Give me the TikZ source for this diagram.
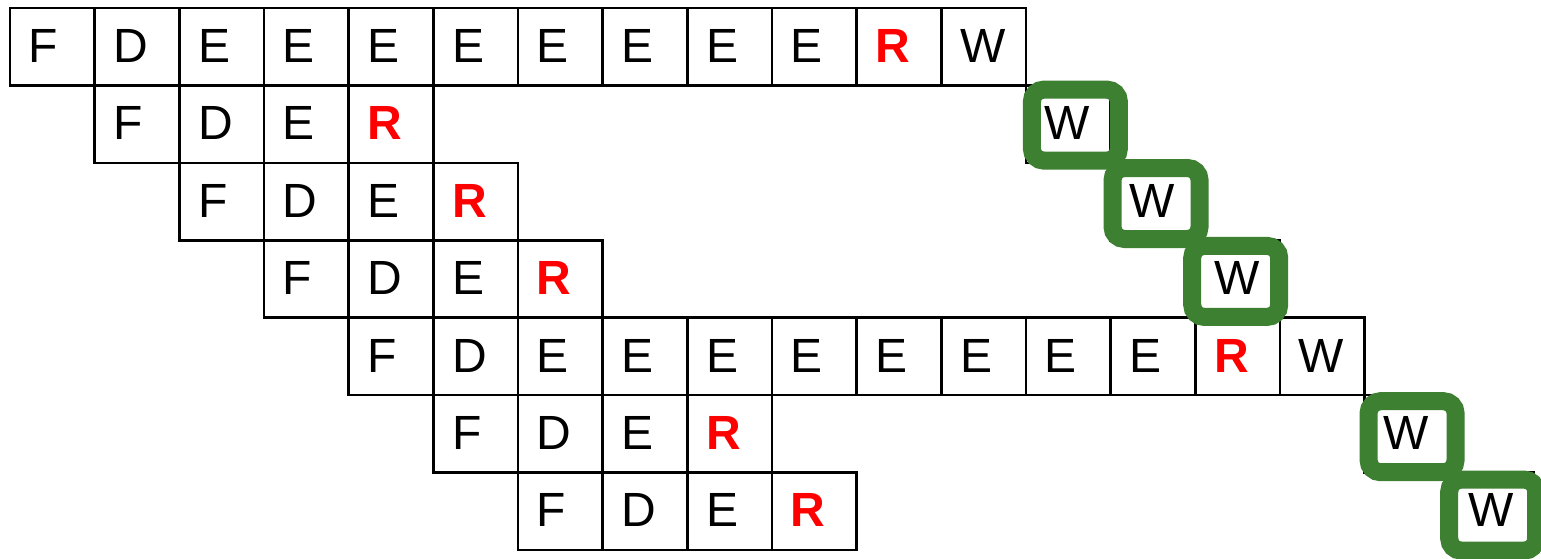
\documentclass[tikz,border=0pt]{standalone}
\usepackage{fontspec}
\setmainfont{Liberation Sans}
\usetikzlibrary{calc}
\definecolor{hlgreen}{RGB}{62,128,50}
\newcommand\cellat[4]{%
  \node[cell] (c#1-#2) at ({10+#2*84.67},{8+#1*77.4}) {};
  \node[#4] (t#1-#2) at ($(c#1-#2.north west)+(18.5,54.5)$) {#3};
}
\begin{document}
\begin{tikzpicture}[x=1pt,y=-1pt,
  cell/.style={draw=black, line width=2.6pt, minimum width=84.67pt, minimum height=77.4pt, inner sep=0pt, outer sep=0pt, anchor=north west},
  blk/.style={anchor=base west, inner sep=0pt, text=black, font=\fontsize{48}{48}\selectfont},
  rd/.style={anchor=base west, inner sep=0pt, text=red, font=\fontsize{48}{48}\selectfont\bfseries},
  hl/.style={draw=hlgreen, line width=18pt, rounded corners=12pt, minimum width=87pt, minimum height=71pt, inner sep=0pt, outer sep=0pt}]
\useasboundingbox (0,0) rectangle (1541,558);
% row 0
\foreach \l/\s [count=\c from 0] in {F/blk,D/blk,E/blk,E/blk,E/blk,E/blk,E/blk,E/blk,E/blk,E/blk,R/rd,W/blk} {\cellat{0}{\c}{\l}{\s}}
% row 1
\foreach \l/\s [count=\c from 1] in {F/blk,D/blk,E/blk,R/rd} {\cellat{1}{\c}{\l}{\s}}
\cellat{1}{12}{W}{blk}
% row 2
\foreach \l/\s [count=\c from 2] in {F/blk,D/blk,E/blk,R/rd} {\cellat{2}{\c}{\l}{\s}}
\cellat{2}{13}{W}{blk}
% row 3
\foreach \l/\s [count=\c from 3] in {F/blk,D/blk,E/blk,R/rd} {\cellat{3}{\c}{\l}{\s}}
\cellat{3}{14}{W}{blk}
% row 4
\foreach \l/\s [count=\c from 4] in {F/blk,D/blk,E/blk,E/blk,E/blk,E/blk,E/blk,E/blk,E/blk,E/blk,R/rd,W/blk} {\cellat{4}{\c}{\l}{\s}}
% row 5
\foreach \l/\s [count=\c from 5] in {F/blk,D/blk,E/blk,R/rd} {\cellat{5}{\c}{\l}{\s}}
\cellat{5}{16}{W}{blk}
% row 6
\foreach \l/\s [count=\c from 6] in {F/blk,D/blk,E/blk,R/rd} {\cellat{6}{\c}{\l}{\s}}
\cellat{6}{17}{W}{blk}
% highlight boxes
\node[hl] (g1) at ($(c1-12.center)+(7,1)$) {};
\node[hl] (g2) at ($(c2-13.center)+(3,2)$) {};
\node[hl] (g3) at ($(c3-14.center)+(-2,2.5)$) {};
\node[hl] (g5) at ($(c5-16.center)+(5,3)$) {};
\node[hl] (g6) at ($(c6-17.center)+(1,4)$) {};
\end{tikzpicture}
\end{document}
